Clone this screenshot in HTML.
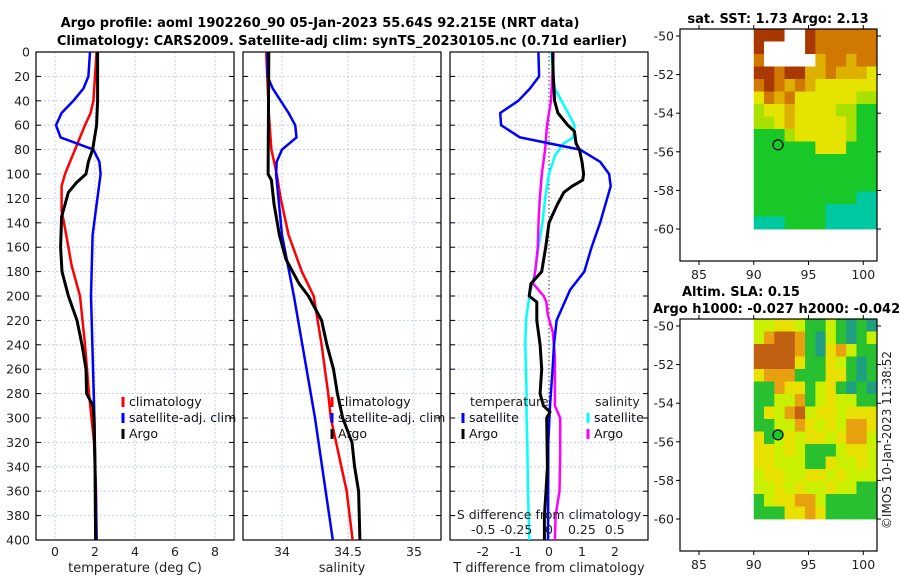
<!DOCTYPE html>
<html><head><meta charset="utf-8">
<style>
html,body{margin:0;padding:0;background:#fff;}
svg{display:block;font-family:"DejaVu Sans","Liberation Sans",sans-serif;}
</style></head>
<body>
<svg id="fig" width="900" height="580" viewBox="0 0 900 580" xmlns="http://www.w3.org/2000/svg">
<text x="320" y="27" text-anchor="middle" font-size="13" font-weight="bold">Argo profile: aoml 1902260_90 05-Jan-2023 55.64S 92.215E (NRT data)</text>
<text x="342" y="45" text-anchor="middle" font-size="13" font-weight="bold">Climatology: CARS2009. Satellite-adj clim: synTS_20230105.nc (0.71d earlier)</text>
<g id="g1"></g>
<g id="g2"></g>
<g id="g3"></g>
<g id="m1"></g>
<g id="m2"></g>
<text x="0" y="0" transform="translate(891,440) rotate(-90)" text-anchor="middle" font-size="12" fill="#222">©IMOS 10-Jan-2023 11:38:52</text>
</svg>
<script>
// ---- profile data ----
const depthTicks = [0,20,40,60,80,100,120,140,160,180,200,220,240,260,280,300,320,340,360,380,400];
const tArgoD = [0,40,60,80,90,100,107,115,125,135,160,180,200,220,240,260,280,290,300,340,400];
const tArgoV = [2.13,2.13,2.08,1.88,1.67,1.55,1.08,0.67,0.5,0.33,0.28,0.35,0.67,1.1,1.35,1.55,1.58,1.9,1.95,2.0,2.03];
const tClimD = [0,40,50,60,80,100,110,130,140,160,175,200,240,280,320,360,400];
const tClimV = [2.08,1.92,1.78,1.5,1.0,0.5,0.33,0.33,0.45,0.67,0.83,1.25,1.5,1.7,1.95,2.05,2.08];
const tSatD = [0,20,30,40,50,60,70,80,90,100,150,200,300,400];
const tSatV = [1.75,1.67,1.42,0.92,0.33,0.05,0.28,1.92,2.22,2.28,1.88,1.8,1.97,2.08];
const sArgoD = [0,100,105,125,150,170,180,190,200,220,240,260,280,300,320,340,360,400];
const sArgoV = [33.9,33.895,33.92,33.94,33.98,34.03,34.08,34.13,34.2,34.3,34.34,34.39,34.42,34.46,34.53,34.55,34.58,34.59];
const sClimD = [0,50,80,100,120,150,180,200,240,280,300,320,360,400];
const sClimV = [33.88,33.9,33.92,33.96,33.99,34.05,34.15,34.24,34.3,34.35,34.37,34.41,34.49,34.535];
const sSatD = [0,20,30,50,60,70,80,90,100,150,200,300,400];
const sSatV = [33.89,33.89,33.93,34.05,34.1,34.11,34.0,33.96,33.955,34.0,34.09,34.25,34.385];
const dtSatD = [0,20,30,40,50,60,70,75,80,90,100,110,140,160,180,195,220,240,260,290,320,400];
const dtSatV = [-0.32,-0.3,-0.58,-0.93,-1.48,-1.45,-0.88,0.03,0.94,1.55,1.82,1.87,1.55,1.29,1.07,0.64,0.23,0.15,0.11,0.03,-0.02,-0.03];
const dtArgoD = [0,20,40,50,60,65,75,80,90,100,105,110,115,125,140,160,180,190,200,205,220,240,260,280,290,295,300,340,360,380,400];
const dtArgoV = [0.11,0.13,0.17,0.27,0.57,0.77,0.82,0.92,1.0,1.05,1.02,0.7,0.45,0.25,0.0,-0.1,-0.22,-0.55,-0.6,-0.37,-0.37,-0.27,-0.22,-0.27,-0.17,0.03,-0.07,-0.05,-0.09,-0.14,-0.14];
const dsSatD = [0,20,30,50,60,70,75,85,100,120,140,160,180,200,220,240,280,300,320,360,400];
const dsSatV = [0.02,0.03,0.045,0.145,0.195,0.185,0.11,0.045,0,-0.03,-0.05,-0.08,-0.105,-0.15,-0.175,-0.18,-0.17,-0.17,-0.165,-0.16,-0.15];
const dsArgoD = [0,40,60,80,100,120,140,160,180,190,195,200,205,215,230,250,290,300,330,360,380,400];
const dsArgoV = [0.035,0.015,-0.015,-0.03,-0.055,-0.07,-0.08,-0.085,-0.105,-0.12,-0.08,-0.04,-0.02,-0.01,0.03,0.045,0.045,0.085,0.085,0.08,0.05,0.045];
const tTicks = [0,2,4,6,8];
const sTicks = [34,34.5,35];
const sTickLabels = ["34","34.5","35"];
const dtTicks = [-2,-1,0,1,2];
const dsTicks = [-0.5,-0.25,0,0.25,0.5];
const dsTickLabels = ["-0.5","-0.25","0","0.25","0.5"];

const NS="http://www.w3.org/2000/svg";
function mk(parent,tag,attrs,text){const e=document.createElementNS(NS,tag);for(const k in attrs)e.setAttribute(k,attrs[k]);if(text!==undefined)e.textContent=text;parent.appendChild(e);return e;}
const Y0=52,Y1=540;
function yD(d){return Y0+(d-0)*(Y1-Y0)/400;}
const xT=v=>55+20*v;
const xS=v=>282+132*(v-34);
const xDT=v=>549+33*v;
const xDS=v=>549+131.5*v;

function panel(g,x0,x1,gridXs,name){
  for(const d of depthTicks){const l=mk(g,'line',{x1:x0,x2:x1,y1:yD(d),y2:yD(d),stroke:'#b8c4ee','stroke-width':0.8,'stroke-dasharray':'2,2'});
    
    }
  for(const x of gridXs){const l=mk(g,'line',{x1:x,x2:x,y1:Y0,y2:Y1,stroke:'#b8c4ee','stroke-width':0.8,'stroke-dasharray':'2,2'});
    
    }
  for(const d of depthTicks){mk(g,'line',{x1:x0,x2:x0+5,y1:yD(d),y2:yD(d),stroke:'#000'});mk(g,'line',{x1:x1-5,x2:x1,y1:yD(d),y2:yD(d),stroke:'#000'});}
  const r=mk(g,'rect',{x:x0,y:Y0,width:x1-x0,height:Y1-Y0,fill:'none',stroke:'#000','stroke-width':1.2});
  
  
}
function curve(g,ds,vs,sx,color,w,name){
  const pts=ds.map((d,i)=>sx(vs[i]).toFixed(1)+','+yD(d).toFixed(1)).join(' ');
  const p=mk(g,'polyline',{points:pts,fill:'none',stroke:color,'stroke-width':w,'stroke-linejoin':'round'});
  
  
}
function legend(g,x,y,color,label,name){
  mk(g,'rect',{x:x-1.5,y:y-9,width:3,height:10,fill:color});
  const t=mk(g,'text',{x:x+6,y:y,'font-size':12.5,fill:'#111'},label);
  
  
}
function txt(g,x,y,s,anchor,size,name){const t=mk(g,'text',{x:x,y:y,'text-anchor':anchor,'font-size':size,fill:'#222'},s);
  
  return t;}

// Panel 1
const g1=document.getElementById('g1');
panel(g1,36,234,tTicks.map(xT),'temperature');
for(const d of depthTicks) txt(g1,30,yD(d)+4.5,String(d),'end',12.5,'depth-tick-label');
tTicks.forEach(v=>txt(g1,xT(v),556,String(v),'middle',12.5,'temperature-tick-label'));
txt(g1,135,572,'temperature (deg C)','middle',13,'temperature-axis-title');
curve(g1,tClimD,tClimV,xT,'#ff0000',2.5,'temperature-climatology-line');
curve(g1,tSatD,tSatV,xT,'#0000ff',2.5,'temperature-satellite-line');
curve(g1,tArgoD,tArgoV,xT,'#000',3,'temperature-argo-line');
legend(g1,123,406,'#ff0000','climatology','legend-climatology');
legend(g1,123,422,'#0000ff','satellite-adj. clim','legend-satellite-adj');
legend(g1,123,438,'#000','Argo','legend-argo');

// Panel 2
const g2=document.getElementById('g2');
panel(g2,243,441,sTicks.map(xS),'salinity');
sTicks.forEach((v,i)=>txt(g2,xS(v),556,sTickLabels[i],'middle',12.5,'salinity-tick-label'));
txt(g2,342,572,'salinity','middle',13,'salinity-axis-title');
curve(g2,sClimD,sClimV,xS,'#ff0000',2.5,'salinity-climatology-line');
curve(g2,sSatD,sSatV,xS,'#0000ff',2.5,'salinity-satellite-line');
curve(g2,sArgoD,sArgoV,xS,'#000',3,'salinity-argo-line');
legend(g2,332,406,'#ff0000','climatology','legend-climatology');
legend(g2,332,422,'#0000ff','satellite-adj. clim','legend-satellite-adj');
legend(g2,332,438,'#000','Argo','legend-argo');

// Panel 3
const g3=document.getElementById('g3');
panel(g3,450,648,dtTicks.filter(v=>v!==0).map(xDT),'difference');
const zl=mk(g3,'line',{x1:xDT(0),x2:xDT(0),y1:Y0,y2:Y1,stroke:'#333','stroke-width':1,'stroke-dasharray':'1.5,2.5'});


dtTicks.forEach(v=>txt(g3,xDT(v),556,String(v),'middle',12.5,'t-diff-tick-label'));
txt(g3,549,572,'T difference from climatology','middle',13,'t-diff-axis-title');
curve(g3,dsSatD,dsSatV,xDS,'#00ffff',2.5,'salinity-satellite-diff-line');
curve(g3,dsArgoD,dsArgoV,xDS,'#ff00ff',2.5,'salinity-argo-diff-line');
curve(g3,dtSatD,dtSatV,xDT,'#0000ff',2.5,'temperature-satellite-diff-line');
curve(g3,dtArgoD,dtArgoV,xDT,'#000',3,'temperature-argo-diff-line');
txt(g3,470,406,'temperature','start',12.5,'legend-temperature-header');
legend(g3,463,422,'#0000ff','satellite','legend-temperature-satellite');
legend(g3,463,438,'#000','Argo','legend-temperature-argo');
txt(g3,595,406,'salinity','start',12.5,'legend-salinity-header');
legend(g3,588,422,'#00ffff','satellite','legend-salinity-satellite');
legend(g3,588,438,'#ff00ff','Argo','legend-salinity-argo');
txt(g3,549,519,'S difference from climatology','middle',12.5,'s-diff-axis-title');
dsTicks.forEach((v,i)=>txt(g3,xDS(v),534,dsTickLabels[i],'middle',12.5,'s-diff-tick-label'));

// ---- maps ----
const lonTicks=[85,90,95,100];
const latTicks=[-50,-52,-54,-56,-58,-60];
const argoLon=92.215, argoLat=-55.64;
const sstRows=[
"rrrwwroooooo","rwwwwroooooo","owwwwwyooyoo","rrorryyoyyyY",
"oroyoyYYYYYY","YoyoYYYYYYll","lYYyYYYYllgg","llYyYYYYYlgg",
"ggglYYYYYlgg","ggggggYYYggg","gggggggggggg","gggggggggggg",
"gggggggggggg","ggggggggggtt","gggggggttttt","tttggggttttt"];
const sstColors={r:'#a83800',o:'#d07800',y:'#e0b000',Y:'#e4e400',l:'#a8e000',g:'#18c828',t:'#00c8a0',w:'#ffffff'};
const slaRows=[
"YYyyYggYgtgt","YobbogtYgtgY","bbbbogtyoYgg","bbbbyggyYgtg",
"yooogggyygtg","ggoyygYygtgt","ggYYogYyYYgg","gyYobYyyYyyy",
"ggYYoyYyYooy","ygYyYyyYyooY","yyYyYgggYyyY","yyYYYggyYYyY",
"YyyYYyyYyYYY","YYyYyYYyYYgg","gYyyooYggggg","gggyyoyggggg"];
const slaColors={b:'#c06010',o:'#e8a010',y:'#e8e000',Y:'#c8f000',g:'#28c030',t:'#20a080'};

function drawMap(g,top,rows,colors,title1,title2,markerFill,name){
  const bx0=680,bx1=877,by0=top,by1=top+232;
  const lonX=v=>699+(v-85)*10.95;
  const latY=v=>top+7+(-50-v)*19.3;
  const imgX0=lonX(90), imgX1=bx1, imgY0=by0, imgY1=latY(-60);
  const cw=(imgX1-imgX0)/rows[0].length, ch=(imgY1-imgY0)/rows.length;
  rows.forEach((row,r)=>{[...row].forEach((c,k)=>{
    const cell=mk(g,'rect',{x:(imgX0+k*cw).toFixed(2),y:(imgY0+r*ch).toFixed(2),width:(cw+0.4).toFixed(2),height:(ch+0.4).toFixed(2),fill:colors[c]});
    
    
  });});
  const fr=mk(g,'rect',{x:bx0,y:by0,width:bx1-bx0,height:by1-by0,fill:'none',stroke:'#000','stroke-width':1.2});
  
  
  latTicks.forEach(v=>{mk(g,'line',{x1:bx0-4,x2:bx0,y1:latY(v),y2:latY(v),stroke:'#000'});mk(g,'line',{x1:bx1,x2:bx1+4,y1:latY(v),y2:latY(v),stroke:'#000'});
    txt(g,674,latY(v)+4.5,String(v),'end',12.5,name+'-lat-label');});
  lonTicks.forEach(v=>{mk(g,'line',{x1:lonX(v),x2:lonX(v),y1:by1,y2:by1+4,stroke:'#000'});mk(g,'line',{x1:lonX(v),x2:lonX(v),y1:by0-4,y2:by0,stroke:'#000'});
    txt(g,lonX(v),by1+18,String(v),'middle',12.5,name+'-lon-label');});
  const m=mk(g,'circle',{cx:lonX(argoLon),cy:latY(argoLat),r:5,fill:markerFill,stroke:'#000','stroke-width':1.2});
  
  
}
const m1=document.getElementById('m1');
drawMap(m1,29,sstRows,sstColors,'','','#18c828','sst-map');
const t1=mk(m1,'text',{x:778,y:23,'text-anchor':'middle','font-size':13,'font-weight':'bold'},'sat. SST: 1.73 Argo: 2.13');


const m2=document.getElementById('m2');
drawMap(m2,319,slaRows,slaColors,'','','#18c828','sla-map');
const t2=mk(m2,'text',{x:682,y:296,'font-size':13,'font-weight':'bold'},'Altim. SLA: 0.15');


const t3=mk(m2,'text',{x:653,y:313,'font-size':13,'font-weight':'bold'},'Argo h1000: -0.027 h2000: -0.042');


</script>
</body></html>
